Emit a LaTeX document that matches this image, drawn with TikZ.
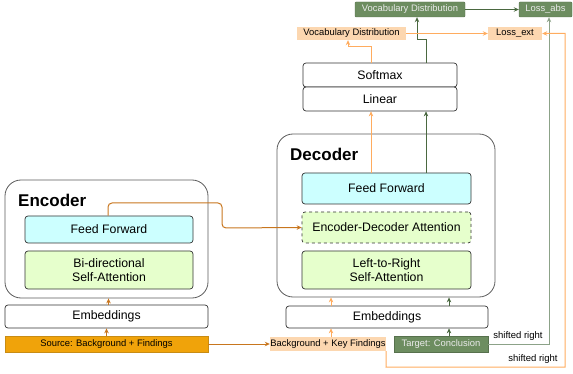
\documentclass[tikz,border=0pt]{standalone}
\usepackage{fontspec}
\setmainfont{Liberation Sans}
\usetikzlibrary{arrows.meta}
\definecolor{dgfill}{RGB}{109,141,96}
\definecolor{dgline}{RGB}{74,104,64}
\definecolor{ggline}{RGB}{140,162,136}
\definecolor{peach}{RGB}{252,215,176}
\definecolor{lorange}{RGB}{255,172,95}
\definecolor{srcfill}{RGB}{240,163,10}
\definecolor{srcline}{RGB}{200,140,20}
\definecolor{brline}{RGB}{200,118,30}
\definecolor{cyanfill}{RGB}{204,255,255}
\definecolor{lgreen}{RGB}{230,255,204}
\definecolor{edge}{RGB}{51,51,51}
\tikzset{
  x=1pt, y=-1pt,
  tip/.style={-{Stealth[length=5pt,width=4.5pt]}},
  box/.style={draw=edge, line width=0.7pt, rounded corners=3pt, inner sep=0pt, align=center, font=\fontsize{12.3}{14.5}\selectfont},
  outer/.style={draw=edge!80, line width=0.8pt, rounded corners=16pt},
  gbox/.style={fill=dgfill, draw=dgfill!80!black, line width=0.4pt, rounded corners=1pt, inner sep=0pt, text=white!92!black, font=\fontsize{9.4}{11}\selectfont},
  pbox/.style={fill=peach, draw=none, inner sep=0pt, font=\fontsize{9.4}{11}\selectfont},
  oline/.style={draw=lorange, line width=1pt},
  gline/.style={draw=dgline, line width=1pt},
  ggl/.style={draw=ggline, line width=1pt},
  bline/.style={draw=brline, line width=1pt},
  lab/.style={font=\fontsize{9.5}{11}\selectfont, inner sep=0pt},
  title/.style={font=\fontsize{17}{19}\bfseries\selectfont, anchor=west, inner sep=0pt}
}
\begin{document}
\begin{tikzpicture}
\useasboundingbox (0,0) rectangle (573,374);
% top nodes
\node[gbox, minimum width=110pt, minimum height=15pt] (vocG) at (410,9.5) {Vocabulary Distribution};
\node[gbox, minimum width=53pt, minimum height=15pt] (lossAbs) at (545.5,9.5) {Loss\_abs};
\node[pbox, minimum width=109pt, minimum height=13pt] (vocO) at (351.5,33.5) {Vocabulary Distribution};
\node[pbox, minimum width=54pt, minimum height=13pt] (lossExt) at (515,33.5) {Loss\_ext};
\node[box, fill=white, minimum width=154pt, minimum height=24pt] (softmax) at (380,75) {Softmax};
\node[box, fill=white, minimum width=154pt, minimum height=24pt] (linear) at (380,99) {Linear};
% decoder
\node[outer, minimum width=218pt, minimum height=163pt] (dec) at (386,215.5) {};
\node[title] (dectitle) at (290,154) {Decoder};
\node[box, fill=cyanfill, minimum width=169pt, minimum height=31pt] (dFF) at (386.5,188.5) {Feed Forward};
\node[box, fill=lgreen, dashed, minimum width=169pt, minimum height=31pt] (dED) at (386.5,227.5) {Encoder-Decoder Attention};
\node[box, fill=lgreen, minimum width=169pt, minimum height=38pt] (dSA) at (386.5,270) {Left-to-Right\\Self-Attention};
\node[box, minimum width=202pt, minimum height=22pt] (dEmb) at (387,317) {Embeddings};
\node[pbox, minimum width=116pt, minimum height=14pt] (bkf) at (328,344) {Background + Key Findings};
\node[gbox, rounded corners=0pt, minimum width=94pt, minimum height=16pt] (tgt) at (441,344) {Target: Conclusion};
% encoder
\node[outer, minimum width=203pt, minimum height=118pt] (enc) at (106.5,239) {};
\node[title] (enctitle) at (18,200) {Encoder};
\node[box, fill=cyanfill, minimum width=168pt, minimum height=27pt] (eFF) at (109,229.5) {Feed Forward};
\node[box, fill=lgreen, minimum width=168pt, minimum height=38pt] (eSA) at (109,270) {Bi-directional\\Self-Attention};
\node[box, minimum width=203pt, minimum height=23pt] (eEmb) at (106.5,316.5) {Embeddings};
\node[fill=srcfill, draw=srcline, line width=0.5pt, inner sep=0pt, minimum width=203pt, minimum height=16pt, font=\fontsize{9.4}{11}\selectfont] (src) at (106.5,344) {Source: Background + Findings};
% helper coordinates
\coordinate (xo) at (331,0);
\coordinate (xg) at (449,0);
\coordinate (xfo) at (371,0);
\coordinate (xfg) at (426,0);
\coordinate (xla) at (549,0);
\coordinate (xle) at (565,0);
% encoder arrows
\draw[bline, tip] (src.north) -- (eEmb.south);
\draw[bline, tip] (eEmb.north -| 108.5,0) -- (enc.south -| 108.5,0);
\draw[bline, tip] (src.east) -- (bkf.west);
\draw[bline, tip, rounded corners=4pt] (eFF.north -| 108,0) -- (108,203) -- (222,203) -- (222,228) -- (dED.west);
% decoder inputs
\draw[oline, tip] (bkf.north -| xo) -- (dEmb.south -| xo);
\draw[oline, tip] (dEmb.north -| xo) -- (dec.south -| xo);
\draw[gline, tip] (tgt.north -| xg) -- (dEmb.south -| xg);
\draw[gline, tip] (dEmb.north -| xg) -- (dec.south -| xg);
% decoder to linear
\draw[oline, tip] (dFF.north -| xfo) -- (linear.south -| xfo);
\draw[gline, tip] (dFF.north -| xfg) -- (linear.south -| xfg);
% softmax to distributions
\draw[oline, tip] (softmax.north -| xfo) -- (371,47) -- (348,47) -- (vocO.south -| 348,0);
\draw[gline, tip] (softmax.north -| xfg) -- (426,40) -- (417,40) -- (vocG.south -| 417,0);
% distributions to losses
\draw[gline, tip] (vocG.east) -- (lossAbs.west);
\draw[oline, tip] (vocO.east) -- (lossExt.west);
% shifted right
\draw[ggl, tip] (tgt.east) -- (tgt.east -| xla) -- (lossAbs.south -| xla);
\node[lab, anchor=south] (sr1) at (518,340.5) {shifted right};
\draw[oline, tip] (bkf.south east) -- (386,367) -- (565,367) -- (565,33.5) -- (lossExt.east);
\node[lab, anchor=south] (sr2) at (533,363.5) {shifted right};
\end{tikzpicture}
\end{document}
